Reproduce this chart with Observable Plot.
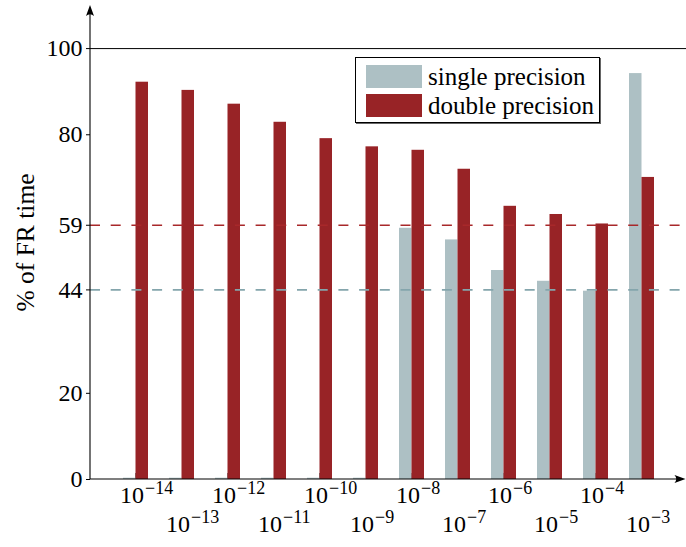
<!DOCTYPE html>
<html><head><meta charset="utf-8">
<script src="https://cdn.jsdelivr.net/npm/d3@7"></script>
<script src="https://cdn.jsdelivr.net/npm/@observablehq/plot@0.6"></script>
<style>
body{margin:0;background:#fff;}
#wrap{position:relative;width:686px;height:547px;font-family:"Liberation Serif","DejaVu Serif",serif;}
#legend{position:absolute;left:355px;top:57px;width:245px;height:66px;box-sizing:border-box;border:1.3px solid #000;background:#fff;box-shadow:1px 1px 0 #666;}
.item{position:absolute;left:10px;display:flex;align-items:center;font-size:25px;line-height:23px;color:#000;white-space:nowrap;}
.sw{width:56px;height:23px;margin-right:6px;}
g[aria-label^="y-axis"] text{font-size:24px;font-family:"Liberation Serif","DejaVu Serif",serif;}
</style></head><body>
<div id="wrap"><div id="chart"></div><div id="legend"></div></div>
<script>
// ---- data ----
const categories = ["-14","-13","-12","-11","-10","-9","-8","-7","-6","-5","-4","-3"];
const singlePrecision = [0.3, 0.3, 0.3, 0.3, 0.3, 0.3, 58.3, 55.6, 48.5, 46.0, 43.7, 94.2];
const doublePrecision = [92.2, 90.3, 87.1, 82.9, 79.1, 77.2, 76.4, 72.0, 63.4, 61.5, 59.3, 70.1];
const yTicks = [0, 20, 44, 59, 80, 100];
const singleAverage = 44;
const doubleAverage = 59;
const topLine = 100;
const seriesNames = ["single precision", "double precision"];
const yLabel = "% of FR time";

// ---- styles ----
const singleColor = "#adc0c4";
const doubleColor = "#982326";
const font = "'Liberation Serif','DejaVu Serif',serif";

const rows = categories.map((c, i) => ({c, exp: "\u2212" + c.slice(1), row: i % 2, single: singlePrecision[i], double: doublePrecision[i]}));
const evenCats = categories.filter((c, i) => i % 2 === 0);

const plot = Plot.plot({
  width: 686, height: 547,
  marginLeft: 90, marginRight: 0, marginTop: 5, marginBottom: 68,
  style: {fontFamily: font, fontSize: "24px", background: "white", overflow: "visible", color: "black"},
  x: {type: "band", domain: categories, paddingInner: 0.459, paddingOuter: 0.68, align: 0.5,
      ticks: evenCats, tickSize: -6, tickFormat: () => "", label: null},
  y: {domain: [0, 110], ticks: yTicks, tickSize: 4, tickPadding: 4, label: null},
  marks: [
    Plot.barY(rows, {x: "c", y: "single", fill: singleColor, insetRight: 12.5}),
    Plot.barY(rows, {x: "c", y: "double", fill: doubleColor, insetLeft: 12.5}),
    Plot.ruleY([topLine], {stroke: "black", strokeWidth: 1}),
    Plot.ruleY([doubleAverage], {stroke: "#a8282a", strokeWidth: 1.6, strokeDasharray: "10,10.7"}),
    Plot.ruleY([singleAverage], {stroke: "#84a5ac", strokeWidth: 1.6, strokeDasharray: "10,10.7"}),
    // x tick labels: 10^exp, alternating rows
    Plot.text(rows, {filter: d => d.row === 0, x: "c", text: () => "10", frameAnchor: "bottom", textAnchor: "end", dx: 8, dy: 23, fontSize: 24}),
    Plot.text(rows, {filter: d => d.row === 0, x: "c", text: "exp", frameAnchor: "bottom", textAnchor: "start", dx: 9, dy: 14, fontSize: 18}),
    Plot.text(rows, {filter: d => d.row === 1, x: "c", text: () => "10", frameAnchor: "bottom", textAnchor: "end", dx: 8, dy: 52, fontSize: 24}),
    Plot.text(rows, {filter: d => d.row === 1, x: "c", text: "exp", frameAnchor: "bottom", textAnchor: "start", dx: 9, dy: 43.5, fontSize: 18}),
    Plot.text([yLabel], {frameAnchor: "left", textAnchor: "middle", rotate: -90, dx: -65, fontSize: 25.5})
  ]
});
document.getElementById("chart").appendChild(plot);

// axis lines with arrowheads, positioned from the plot's own scales
const ys = plot.scale("y"), xs = plot.scale("x");
const y0 = Math.max(...ys.range), yTop = Math.min(...ys.range);
const x0 = Math.min(...xs.range), xEnd = Math.max(...xs.range) - 0.5;
const svg = d3.select(plot);
const g = svg.append("g");
g.append("line").attr("x1", x0).attr("x2", x0).attr("y1", y0).attr("y2", yTop + 6).attr("stroke", "black").attr("stroke-width", 1.1);
g.append("line").attr("x1", x0).attr("x2", xEnd - 6).attr("y1", y0).attr("y2", y0).attr("stroke", "black").attr("stroke-width", 1.1);
g.append("path").attr("d", `M${x0},${yTop} L${x0 - 4},${yTop + 11} Q${x0},${yTop + 7.5} ${x0 + 4},${yTop + 11} Z`).attr("fill", "black");
g.append("path").attr("d", `M${xEnd},${y0} L${xEnd - 11},${y0 - 4} Q${xEnd - 7.5},${y0} ${xEnd - 11},${y0 + 4} Z`).attr("fill", "black");

// legend
const legend = document.getElementById("legend");
[[seriesNames[0], singleColor, 7], [seriesNames[1], doubleColor, 36]].forEach(([name, color, top]) => {
  const it = document.createElement("div");
  it.className = "item";
  it.style.top = top + "px";
  it.innerHTML = `<div class="sw" style="background:${color}"></div><span>${name}</span>`;
  legend.appendChild(it);
});
</script>
</body></html>
